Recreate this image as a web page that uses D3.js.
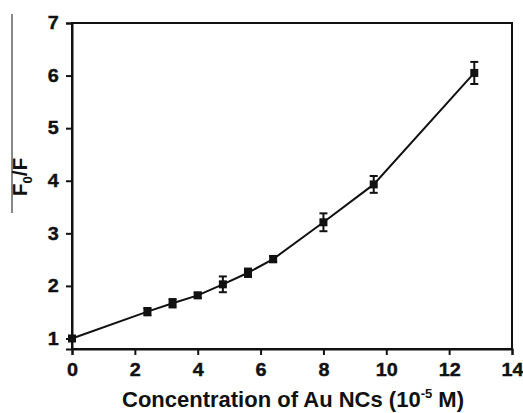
<!DOCTYPE html>
<html lang="en">
<head>
    <meta charset="UTF-8">
    <title>F0/F vs Au NCs concentration</title>
    <script src="https://d3js.org/d3.v7.min.js"></script>
    <style>
        body {
            margin: 0;
            padding: 0;
            background: #ffffff;
            font-family: "Liberation Sans", Arial, sans-serif;
        }
        text {
            font-weight: bold;
            fill: #111;
        }
    </style>
</head>
<body>
    <svg id="chart"></svg>

    <script>
        // Data
        const concentration = [0, 2.4, 3.2, 4.0, 4.8, 5.6, 6.4, 8.0, 9.6, 12.8];
        const ratio = [1.0, 1.51, 1.67, 1.82, 2.03, 2.25, 2.51, 3.21, 3.93, 6.05];
        const errors = [0, 0.07, 0.08, 0.05, 0.15, 0.08, 0.06, 0.17, 0.16, 0.21];
        const xTicks = [0, 2, 4, 6, 8, 10, 12, 14];
        const yTicks = [1, 2, 3, 4, 5, 6, 7];

        const width = 523;
        const height = 413;
        const margin = { top: 23, right: 11, bottom: 64, left: 72 };

        const svg = d3.select("#chart")
            .attr("width", width)
            .attr("height", height);

        const x = d3.scaleLinear()
            .domain([0, 14])
            .range([margin.left, width - margin.right]);

        const y = d3.scaleLinear()
            .domain([0.8, 7])
            .range([height - margin.bottom, margin.top]);

        const points = concentration.map((c, i) => ({ x: c, y: ratio[i], e: errors[i] }));

        // Frame
        svg.append("rect")
            .attr("x", margin.left)
            .attr("y", margin.top)
            .attr("width", width - margin.left - margin.right)
            .attr("height", height - margin.top - margin.bottom)
            .attr("fill", "none")
            .attr("stroke", "#111")
            .attr("stroke-width", 2);

        // Axes
        const xAxis = svg.append("g")
            .attr("transform", `translate(0,${height - margin.bottom})`)
            .call(d3.axisBottom(x).tickValues(xTicks).tickSize(6).tickPadding(8).tickFormat(d3.format("d")));

        const yAxis = svg.append("g")
            .attr("transform", `translate(${margin.left},0)`)
            .call(d3.axisLeft(y).tickValues(yTicks).tickSize(6).tickPadding(6).tickFormat(d3.format("d")));

        [xAxis, yAxis].forEach(a => {
            a.select(".domain").attr("stroke", "#111").attr("stroke-width", 2);
            a.selectAll(".tick line").attr("stroke", "#111").attr("stroke-width", 2);
            a.selectAll(".tick text")
                .attr("font-size", 18)
                .attr("font-family", "Liberation Sans, Arial, sans-serif")
                .attr("font-weight", "bold")
                .attr("fill", "#111")
                .attr("stroke", "#111")
                .attr("stroke-width", 0.4)
                .attr("transform", "scale(1.1,1)");
        });

        // Line
        svg.append("path")
            .datum(points)
            .attr("fill", "none")
            .attr("stroke", "#111")
            .attr("stroke-width", 2)
            .attr("d", d3.line().x(d => x(d.x)).y(d => y(d.y)));

        // Error bars
        const bars = svg.append("g")
            .selectAll("g")
            .data(points.filter(d => d.e > 0))
            .enter()
            .append("g")
            .attr("stroke", "#111")
            .attr("stroke-width", 2);

        bars.append("line")
            .attr("x1", d => x(d.x)).attr("x2", d => x(d.x))
            .attr("y1", d => y(d.y - d.e)).attr("y2", d => y(d.y + d.e));
        bars.append("line")
            .attr("x1", d => x(d.x) - 4).attr("x2", d => x(d.x) + 4)
            .attr("y1", d => y(d.y + d.e)).attr("y2", d => y(d.y + d.e));
        bars.append("line")
            .attr("x1", d => x(d.x) - 4).attr("x2", d => x(d.x) + 4)
            .attr("y1", d => y(d.y - d.e)).attr("y2", d => y(d.y - d.e));

        // Markers
        svg.append("g")
            .selectAll("rect")
            .data(points)
            .enter()
            .append("rect")
            .attr("x", d => x(d.x) - 4)
            .attr("y", d => y(d.y) - 4)
            .attr("width", 8)
            .attr("height", 8)
            .attr("fill", "#111");

        // X axis title
        const xt = svg.append("text")
            .attr("x", 293)
            .attr("y", 407)
            .attr("text-anchor", "middle")
            .attr("font-size", 22);
        xt.append("tspan").text("Concentration of Au NCs (10");
        xt.append("tspan").attr("font-size", 13).attr("dy", -9).text("-5");
        xt.append("tspan").attr("dy", 9).text(" M)");

        // Y axis title
        const yt = svg.append("text")
            .attr("transform", "translate(27,177) rotate(-90)")
            .attr("text-anchor", "middle")
            .attr("font-size", 21);
        yt.append("tspan").text("F");
        yt.append("tspan").attr("font-size", 13).attr("dy", 5).text("0");
        yt.append("tspan").attr("dy", -5).text("/F");

        // overline beside the label
        svg.append("line")
            .attr("x1", 12).attr("x2", 12)
            .attr("y1", 14).attr("y2", 213)
            .attr("stroke", "#111")
            .attr("stroke-width", 1);
    </script>
</body>
</html>
